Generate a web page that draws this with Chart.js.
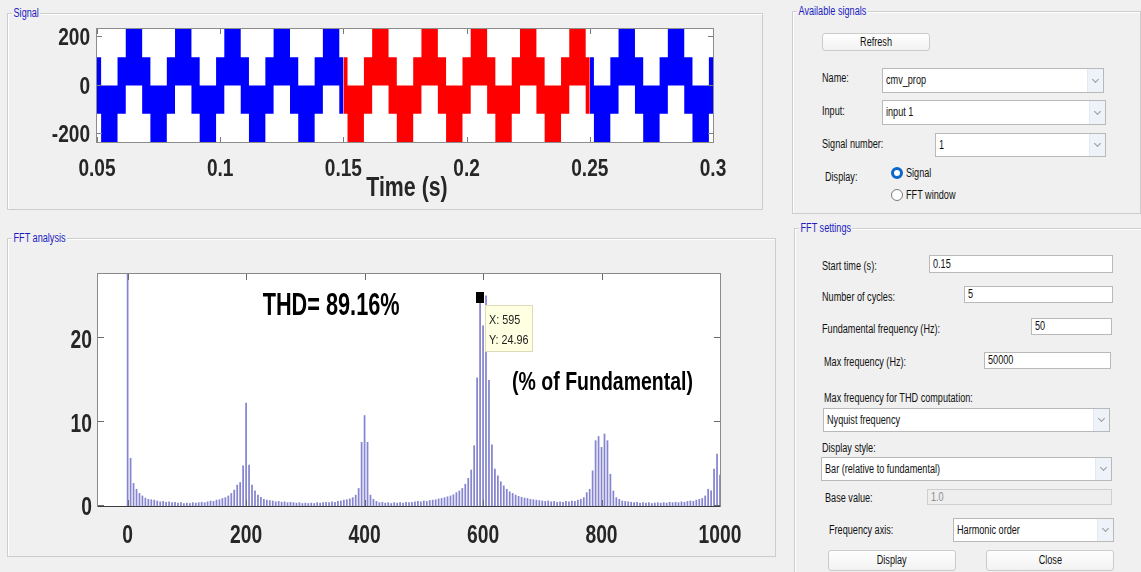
<!DOCTYPE html>
<html>
<head>
<meta charset="utf-8">
<title>FFT analysis</title>
<script src="https://cdn.jsdelivr.net/npm/chart.js@4.4.1/dist/chart.umd.min.js"></script>
<style>
  body { margin:0; width:1141px; height:572px; overflow:hidden; position:relative; background:#f0f0f0;
         font-family:'Liberation Sans',Arial,sans-serif; font-size:12px; color:#111; }
  .panel { position:absolute; border:1px solid #cdcdcd; box-shadow:inset 1px 1px 0 #fff; }
  .panel > .cap { position:absolute; left:4px; top:-8px; padding:0 2px; background:#f0f0f0; color:#1c1cc0; font-size:12px; line-height:14px;
                  transform:scaleX(.76); transform-origin:0 0; }
  .lbl { position:absolute; white-space:nowrap; line-height:14px; transform:scaleX(.76); transform-origin:0 0; }
  .edit, .drop { position:absolute; box-sizing:border-box; background:#fff; border:1px solid #b9b9b9; padding-left:3px; white-space:nowrap; overflow:hidden; }
  .t { display:inline-block; transform:scaleX(.76); transform-origin:0 50%; }
  .drop::after { content:''; position:absolute; right:0; top:0; bottom:0; width:15px; background:#edf3f9; border-left:1px solid #e3e9f0; }
  .drop::before { content:''; position:absolute; right:5px; top:50%; width:4px; height:4px; margin-top:-4px; border-right:1px solid #9a9a9a; border-bottom:1px solid #9a9a9a; transform:rotate(45deg); z-index:1; }
  .edit.off { background:#eeeeee; border-color:#cfcfcf; color:#8c8c8c; }
  .btn { position:absolute; box-sizing:border-box; border:1px solid #cbcbcb; border-radius:3px; background:linear-gradient(#fefefe,#f2f2f2); text-align:center; }
  .btn .t { transform-origin:50% 50%; }
  .radio { position:absolute; width:12px; height:12px; box-sizing:border-box; border-radius:50%; border:1px solid #7a7a7a; background:#fff; }
  .radio.on { border:3.5px solid #0a66c8; }
  .plot { position:absolute; }
</style>
</head>
<body>

<div class="panel" style="left:7px;top:13px;width:754px;height:195px"><span class="cap">Signal</span></div>
<div class="panel" style="left:7px;top:238px;width:767px;height:317px"><span class="cap">FFT analysis</span></div>
<div class="panel" style="left:792px;top:11px;width:347px;height:201px"><span class="cap">Available signals</span></div>
<div class="panel" style="left:794px;top:228px;width:346px;height:400px"><span class="cap">FFT settings</span></div>

<!-- signal selection -->
<div class="btn" style="left:822px;top:33px;width:108px;height:18px;line-height:16px"><span class="t">Refresh</span></div>
<div class="lbl" style="left:822px;top:71px">Name:</div>
<div class="drop" style="left:882px;top:68px;width:222px;height:25px;line-height:23px"><span class="t">cmv_prop</span></div>
<div class="lbl" style="left:822px;top:104px">Input:</div>
<div class="drop" style="left:882px;top:100px;width:224px;height:25px;line-height:23px"><span class="t">input 1</span></div>
<div class="lbl" style="left:822px;top:137px">Signal number:</div>
<div class="drop" style="left:935px;top:133px;width:171px;height:24px;line-height:22px"><span class="t">1</span></div>
<div class="lbl" style="left:825px;top:170px">Display:</div>
<div class="radio on" style="left:891px;top:167px"></div>
<div class="lbl" style="left:906px;top:166px">Signal</div>
<div class="radio" style="left:891px;top:189px"></div>
<div class="lbl" style="left:906px;top:188px">FFT window</div>

<!-- FFT settings -->
<div class="lbl" style="left:822px;top:259px">Start time (s):</div>
<div class="edit" style="left:929px;top:255px;width:184px;height:18px;line-height:16px"><span class="t">0.15</span></div>
<div class="lbl" style="left:822px;top:290px">Number of cycles:</div>
<div class="edit" style="left:964px;top:286px;width:149px;height:17px;line-height:15px"><span class="t">5</span></div>
<div class="lbl" style="left:822px;top:322px">Fundamental frequency (Hz):</div>
<div class="edit" style="left:1031px;top:318px;width:81px;height:17px;line-height:15px"><span class="t">50</span></div>
<div class="lbl" style="left:824px;top:355px">Max frequency (Hz):</div>
<div class="edit" style="left:984px;top:352px;width:127px;height:17px;line-height:15px"><span class="t">50000</span></div>
<div class="lbl" style="left:824px;top:391px">Max frequency for THD computation:</div>
<div class="drop" style="left:823px;top:408px;width:287px;height:24px;line-height:22px"><span class="t">Nyquist frequency</span></div>
<div class="lbl" style="left:822px;top:441px">Display style:</div>
<div class="drop" style="left:821px;top:457px;width:291px;height:24px;line-height:22px"><span class="t">Bar (relative to fundamental)</span></div>
<div class="lbl" style="left:825px;top:491px">Base value:</div>
<div class="edit off" style="left:927px;top:489px;width:185px;height:16px;line-height:14px"><span class="t">1.0</span></div>
<div class="lbl" style="left:829px;top:523px">Frequency axis:</div>
<div class="drop" style="left:953px;top:518px;width:161px;height:24px;line-height:22px"><span class="t">Harmonic order</span></div>
<div class="btn" style="left:828px;top:550px;width:128px;height:21px;line-height:19px"><span class="t">Display</span></div>
<div class="btn" style="left:986px;top:550px;width:128px;height:21px;line-height:19px"><span class="t">Close</span></div>

<div class="plot" style="left:0;top:0"><canvas id="signal" width="780" height="210"></canvas></div>
<div class="plot" style="left:0;top:230px"><canvas id="fft" width="780" height="330"></canvas></div>

<script>
// ---- signal trace (common-mode voltage, V) ----
const timeTicks = [0.05, 0.1, 0.15, 0.2, 0.25, 0.3];
const voltTicks = [-200, 0, 200];
const voltLimit = 233.3;

// start time of each switching interval and the band the PWM swings in
const segStart = [
  0.05,
  0.05167, 0.05833, 0.06167, 0.06833,
  0.07167, 0.07833, 0.08167, 0.08833,
  0.09167, 0.09833, 0.10167, 0.10833,
  0.11167, 0.11833, 0.12167, 0.12833,
  0.13167, 0.13833, 0.14167, 0.14833,
  0.15167, 0.15833, 0.16167, 0.16833,
  0.17167, 0.17833, 0.18167, 0.18833,
  0.19167, 0.19833, 0.20167, 0.20833,
  0.21167, 0.21833, 0.22167, 0.22833,
  0.23167, 0.23833, 0.24167, 0.24833,
  0.25167, 0.25833, 0.26167, 0.26833,
  0.27167, 0.27833, 0.28167, 0.28833,
  0.29167, 0.29833
];
const segBand = 'MLMHMLMHMLMHMLMHMLMHMLMHMLMHMLMHMLMHMLMHMLMHMLMHMLM';
const bandLimits = { H: [0, 233.3], M: [-116.7, 116.7], L: [-233.3, 0] };

// FFT window: start time 0.15 s, 5 cycles of 50 Hz
const windowStart = 0.15;
const windowEnd = 0.25;

// ---- FFT of the window, % of fundamental, one bar every 5 harmonic orders ----
const fftMag = [
  100, 5.7, 2.7, 2.0, 1.5, 1.2, 0.95, 0.8, 0.75, 0.7,
  0.6, 0.5, 0.55, 0.45, 0.5, 0.4, 0.45, 0.35, 0.4, 0.3,
  0.35, 0.3, 0.4, 0.35, 0.4, 0.45, 0.4, 0.5, 0.6, 0.55,
  0.7, 0.75, 0.9, 1.0, 1.2, 1.5, 1.9, 2.5, 2.8, 4.8,
  12.3, 4.9, 2.5, 1.8, 1.3, 1.05, 0.8, 0.7, 0.65, 0.6,
  0.5, 0.55, 0.45, 0.5, 0.4, 0.45, 0.4, 0.35, 0.4, 0.3,
  0.35, 0.3, 0.35, 0.3, 0.4, 0.35, 0.4, 0.45, 0.4, 0.5,
  0.45, 0.55, 0.6, 0.7, 0.75, 0.85, 1.0, 1.3, 2.1, 7.6,
  10.8, 7.6, 1.3, 0.8, 0.55, 0.4, 0.45, 0.35, 0.4, 0.3,
  0.4, 0.35, 0.4, 0.35, 0.45, 0.4, 0.45, 0.5, 0.55, 0.5,
  0.6, 0.55, 0.65, 0.7, 0.75, 0.85, 0.9, 1.0, 1.1, 1.2,
  1.35, 1.6, 1.8, 2.1, 2.6, 3.3, 4.3, 7.2, 15.3, 24.96,
  21.5, 25.1, 15.0, 7.3, 4.4, 3.6, 2.9, 2.4, 2.0, 1.7,
  1.5, 1.3, 1.15, 1.05, 0.95, 0.9, 0.8, 0.75, 0.7, 0.65,
  0.6, 0.55, 0.6, 0.5, 0.55, 0.45, 0.5, 0.45, 0.55, 0.5,
  0.6, 0.55, 0.7, 0.8, 1.0, 1.6, 2.0, 4.2, 7.8, 8.3,
  7.0, 8.6, 7.8, 3.8, 1.8, 1.0, 0.8, 0.6, 0.55, 0.5,
  0.45, 0.4, 0.45, 0.35, 0.4, 0.35, 0.4, 0.3, 0.35, 0.4,
  0.35, 0.4, 0.35, 0.45, 0.4, 0.45, 0.4, 0.5, 0.45, 0.55,
  0.6, 0.55, 0.7, 0.8, 0.9, 1.2, 2.0, 1.8, 4.4, 6.2,
  3.7
];
const harmonicOrders = fftMag.map((_, i) => i * 5);
const orderTicks = [0, 200, 400, 600, 800, 1000];
const magTicks = [0, 10, 20];
const thdPercent = 89.16;
const tipOrder = 595;

const sans = "'Liberation Sans',Arial,sans-serif";
const ink = '#262626';

// draw text squeezed horizontally (the figure uses a condensed face)
function squeezed(ctx, text, x, y, font, sx, align) {
  ctx.save();
  ctx.font = font;
  const w = ctx.measureText(text).width * sx;
  const x0 = align === 'center' ? x - w / 2 : align === 'right' ? x - w : x;
  ctx.translate(x0, y);
  ctx.scale(sx, 1);
  ctx.textAlign = 'left';
  ctx.fillText(text, 0, 0);
  ctx.restore();
}

// white plot box, inward tick marks on all four sides, condensed tick labels
const frame = {
  id: 'frame',
  beforeDatasetsDraw(chart) {
    const { ctx, chartArea: a } = chart;
    ctx.save();
    ctx.fillStyle = '#fff';
    ctx.fillRect(a.left, a.top, a.width, a.height);
    ctx.restore();
  },
  afterDatasetsDraw(chart, args, o) {
    const { ctx, chartArea: a, scales: { x, y } } = chart;
    const len = o.tickLen;
    ctx.save();
    ctx.lineWidth = 1;
    ctx.strokeStyle = o.tickColor;
    ctx.beginPath();
    x.ticks.forEach(t => {
      const px = Math.round(x.getPixelForValue(t.value)) + 0.5;
      ctx.moveTo(px, a.bottom); ctx.lineTo(px, a.bottom - len);
      ctx.moveTo(px, a.top); ctx.lineTo(px, a.top + len);
    });
    y.ticks.forEach(t => {
      const py = Math.round(y.getPixelForValue(t.value)) - 0.5;
      ctx.moveTo(a.left, py); ctx.lineTo(a.left + len, py);
      ctx.moveTo(a.right, py); ctx.lineTo(a.right - len, py);
    });
    ctx.stroke();
    ctx.strokeStyle = o.color;
    ctx.strokeRect(a.left - 0.5, a.top - 0.5, a.width + 1, a.height + 1);
    if (o.baseColor) {
      ctx.strokeStyle = o.baseColor;
      ctx.beginPath();
      ctx.moveTo(a.left, a.bottom + 0.5); ctx.lineTo(a.right, a.bottom + 0.5);
      ctx.stroke();
    }

    ctx.fillStyle = ink;
    ctx.textBaseline = 'alphabetic';
    const font = 'bold ' + o.labelSize + 'px ' + sans;
    x.ticks.forEach(t => squeezed(ctx, String(t.value), x.getPixelForValue(t.value), a.bottom + o.xLabelDrop, font, o.labelSqueeze, 'center'));
    y.ticks.forEach(t => squeezed(ctx, String(t.value), a.left - o.yLabelGap, y.getPixelForValue(t.value) + o.labelSize * 0.36, font, o.labelSqueeze, 'right'));
    if (o.xTitle) {
      squeezed(ctx, o.xTitle, (a.left + a.right) / 2 + 2, a.bottom + o.xTitleDrop, 'bold ' + o.xTitleSize + 'px ' + sans, o.xTitleSqueeze, 'center');
    }
    ctx.restore();
  }
};

// THD caption, unit caption and the data tip on the 595th order
const fftNotes = {
  id: 'fftNotes',
  afterDatasetsDraw(chart) {
    const { ctx, scales: { x, y } } = chart;
    ctx.save();
    ctx.fillStyle = '#000';
    ctx.textBaseline = 'alphabetic';
    squeezed(ctx, 'THD= ' + thdPercent + '%', x.getPixelForValue(228), y.getPixelForValue(22.75), 'bold 31px ' + sans, 0.70);
    squeezed(ctx, '(% of Fundamental)', x.getPixelForValue(649), y.getPixelForValue(13.8), 'bold 26px ' + sans, 0.75);

    const i = harmonicOrders.indexOf(tipOrder);
    const px = Math.round(x.getPixelForValue(harmonicOrders[i]));
    const py = Math.round(y.getPixelForValue(fftMag[i]));
    ctx.fillStyle = '#000';
    ctx.fillRect(px - 4, py - 5, 8, 11);
    ctx.fillStyle = '#ffffe1';
    ctx.strokeStyle = '#dedcb8';
    ctx.fillRect(px + 5, py + 8, 48, 47);
    ctx.strokeRect(px + 5.5, py + 8.5, 47, 46);
    ctx.fillStyle = '#222';
    squeezed(ctx, 'X: ' + harmonicOrders[i], px + 9, py + 27, '13px ' + sans, 0.83);
    squeezed(ctx, 'Y: ' + fftMag[i], px + 9, py + 47, '13px ' + sans, 0.83);
    ctx.restore();
  }
};

function bandTrace(t0, t1, side) {
  const tEnd = timeTicks[timeTicks.length - 1];
  const pts = [];
  segStart.forEach((s, i) => {
    const e = i + 1 < segStart.length ? segStart[i + 1] : tEnd;
    if (e <= t0 || s >= t1) return;
    pts.push({ x: Math.max(s, t0), y: bandLimits[segBand[i]][side] });
  });
  pts.push({ x: t1, y: pts[pts.length - 1].y });
  return pts;
}

const sections = [
  [timeTicks[0], windowStart, '#0000ff'],
  [windowStart, windowEnd, '#ff0000'],
  [windowEnd, timeTicks[timeTicks.length - 1], '#0000ff']
];
const traceSets = [];
sections.forEach(([t0, t1, col]) => {
  traceSets.push({ data: bandTrace(t0, t1, 1), fill: '+1', backgroundColor: col, borderColor: 'transparent', borderWidth: 0 });
  traceSets.push({ data: bandTrace(t0, t1, 0), fill: false, borderColor: 'transparent', borderWidth: 0 });
});

new Chart(document.getElementById('signal'), {
  type: 'line',
  data: { datasets: traceSets },
  options: {
    responsive: false,
    animation: false,
    events: [],
    layout: { padding: { left: 0, top: 29, right: 67, bottom: 0 } },
    elements: { point: { radius: 0 }, line: { stepped: true, tension: 0 } },
    plugins: {
      legend: { display: false },
      tooltip: { enabled: false },
      frame: { tickLen: 5, tickColor: '#7a7a7a', color: '#8c8c8c',
               labelSize: 23, labelSqueeze: 0.83, xLabelDrop: 34, yLabelGap: 7,
               xTitle: 'Time (s)', xTitleSize: 27, xTitleSqueeze: 0.79, xTitleDrop: 54 }
    },
    scales: {
      x: {
        type: 'linear', min: timeTicks[0], max: timeTicks[timeTicks.length - 1],
        grid: { display: false }, border: { display: false },
        afterBuildTicks: s => { s.ticks = timeTicks.map(v => ({ value: v })); },
        afterFit: s => { s.height = 68; s.paddingLeft = 0; s.paddingRight = 0; },
        ticks: { display: false }
      },
      y: {
        min: -voltLimit, max: voltLimit,
        grid: { display: false }, border: { display: false },
        afterBuildTicks: s => { s.ticks = voltTicks.map(v => ({ value: v })); },
        afterFit: s => { s.width = 97; s.paddingTop = 0; s.paddingBottom = 0; },
        ticks: { display: false }
      }
    }
  },
  plugins: [frame]
});

new Chart(document.getElementById('fft'), {
  type: 'bar',
  data: {
    datasets: [{
      data: harmonicOrders.map((h, i) => ({ x: h, y: fftMag[i] })),
      backgroundColor: '#8686d0',
      borderWidth: 0,
      barThickness: 1.1
    }]
  },
  options: {
    responsive: false,
    animation: false,
    events: [],
    layout: { padding: { left: 0, top: 44, right: 60, bottom: 0 } },
    plugins: {
      legend: { display: false },
      tooltip: { enabled: false },
      frame: { tickLen: 6, tickColor: '#6a6a6a', color: '#8a8a8a', baseColor: '#3c3c3c',
               labelSize: 26, labelSqueeze: 0.74, xLabelDrop: 37, yLabelGap: 6 }
    },
    scales: {
      x: {
        type: 'linear', min: -50, max: 1000, offset: false,
        grid: { display: false }, border: { display: false },
        afterBuildTicks: s => { s.ticks = orderTicks.map(v => ({ value: v })); },
        afterFit: s => { s.height = 54; s.paddingLeft = 0; s.paddingRight = 0; },
        ticks: { display: false }
      },
      y: {
        min: 0, max: 27.7,
        grid: { display: false }, border: { display: false },
        afterBuildTicks: s => { s.ticks = magTicks.map(v => ({ value: v })); },
        afterFit: s => { s.width = 98; s.paddingTop = 0; s.paddingBottom = 0; },
        ticks: { display: false }
      }
    }
  },
  plugins: [frame, fftNotes]
});
</script>
</body>
</html>
